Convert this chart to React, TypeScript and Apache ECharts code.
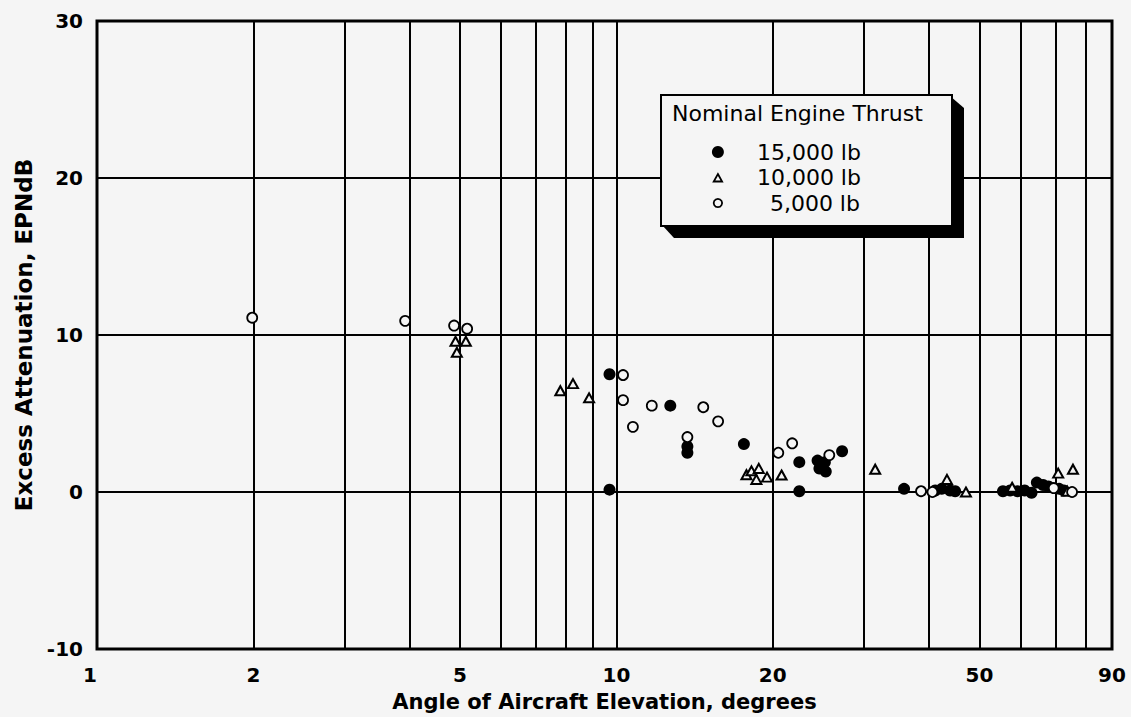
import React, { useEffect, useRef } from "react";
import * as echarts from "echarts";

// ---- data ----
const seriesNames = ["15,000 lb", "10,000 lb", "5,000 lb"];

// [angle of elevation (deg), excess attenuation (EPNdB)]
const thrust15: number[][] = [
  [9.7, 7.5], [9.7, 0.15], [12.7, 5.5], [13.7, 2.9], [13.7, 2.5], [17.6, 3.05],
  [22.5, 1.9], [22.5, 0.05], [24.4, 2.0], [24.6, 1.5], [25.3, 1.3], [25.2, 1.9],
  [27.2, 2.6], [35.8, 0.2], [41.1, 0.1], [42.3, 0.2], [43.9, 0.1], [44.9, 0.05],
  [55.5, 0.05], [57.3, 0.1], [59.2, 0.05], [61.1, 0.1], [63.0, -0.05], [64.5, 0.6],
  [66.3, 0.45], [67.9, 0.35], [71.2, 0.2], [72.7, 0.1],
];

const thrust10: number[][] = [
  [4.9, 9.6], [5.13, 9.6], [4.93, 8.9], [7.8, 6.45], [8.25, 6.9], [8.86, 6.0],
  [17.8, 1.1], [18.2, 1.35], [18.8, 1.5], [18.6, 0.8], [19.5, 0.95], [20.8, 1.08],
  [31.5, 1.45], [43.3, 0.8], [47.1, 0.0], [57.8, 0.3], [70.9, 1.2], [73.8, 0.05],
  [75.7, 1.45],
];

const thrust5: number[][] = [
  [1.99, 11.1], [3.92, 10.9], [4.87, 10.6], [5.16, 10.4], [10.3, 7.45], [10.3, 5.85],
  [10.76, 4.15], [11.7, 5.5], [13.7, 3.5], [14.7, 5.4], [15.7, 4.5], [20.5, 2.5],
  [21.8, 3.1], [25.7, 2.35], [38.6, 0.05], [40.6, 0.0], [69.5, 0.25], [75.4, 0.0],
];

// log-axis grid lines between decades, and the ones that carry a label
const xGridValues = [2, 3, 4, 5, 6, 7, 8, 9, 20, 30, 40, 50, 60, 70, 80];
const xExtraLabels = [2, 5, 20, 50];

const xMin = 1;
const xMax = 90;
const yMin = -10;
const yMax = 30;
const yInterval = 10;

const legendTitle = "Nominal Engine Thrust";
const xTitle = "Angle of Aircraft Elevation, degrees";
const yTitle = "Excess Attenuation, EPNdB";

const FONT = "DejaVu Sans";
const BG = "#f5f5f5";

export default function App() {
  const ref = useRef<HTMLDivElement>(null);

  useEffect(() => {
    if (!ref.current) return;
    const chart = echarts.init(ref.current, null, { renderer: "svg" });

    const tickFont = { fontFamily: FONT, fontSize: 20, fontWeight: "bold", color: "#000" };

    const option: any = {
      animation: false,
      backgroundColor: BG,
      grid: {
        left: 97,
        right: 19,
        top: 21,
        bottom: 68,
        show: true,
        borderColor: "#000",
        borderWidth: 3,
        backgroundColor: "transparent",
      },
      xAxis: {
        type: "log",
        logBase: 10,
        min: xMin,
        max: xMax,
        name: xTitle,
        nameLocation: "middle",
        nameGap: 42,
        nameTextStyle: { fontFamily: FONT, fontSize: 21, fontWeight: "bold", color: "#000" },
        axisLine: { show: false },
        axisTick: { show: false },
        axisLabel: {
          ...tickFont,
          margin: 16,
          alignMinLabel: "right",
          formatter: (v: number) => String(Math.round(v)),
        },
        splitLine: { show: true, lineStyle: { color: "#000", width: 2 } },
      },
      yAxis: {
        type: "value",
        min: yMin,
        max: yMax,
        interval: yInterval,
        name: yTitle,
        nameLocation: "middle",
        nameGap: 60,
        nameTextStyle: { fontFamily: FONT, fontSize: 23, fontWeight: "bold", color: "#000" },
        axisLine: { show: false },
        axisTick: { show: false },
        axisLabel: { ...tickFont, margin: 14 },
        splitLine: { show: true, lineStyle: { color: "#000", width: 2 } },
      },
      legend: {
        orient: "vertical",
        left: 711,
        top: 141,
        padding: 0,
        itemWidth: 14,
        itemHeight: 12,
        itemGap: 3.5,
        z: 20,
        selectedMode: false,
        data: [
          { name: seriesNames[0], icon: "circle", itemStyle: { color: "#000", borderWidth: 0, opacity: 1 } },
          {
            name: seriesNames[1],
            icon: "path://M0,0M12,12M6,2.5L10.2,10L1.8,10Z",
            itemStyle: { color: BG, borderColor: "#000", borderWidth: 1.8, opacity: 1 },
          },
          {
            name: seriesNames[2],
            icon: "path://M0,0M12,12M6,1.8A4.2,4.2 0 1 1 5.99,1.8Z",
            itemStyle: { color: BG, borderColor: "#000", borderWidth: 1.8, opacity: 1 },
          },
        ],
        formatter: (name: string) =>
          name === seriesNames[2] ? `{g2|}${name}` : `{g|}${name}`,
        textStyle: {
          fontFamily: FONT,
          fontSize: 22,
          color: "#000",
          rich: { g: { width: 27 }, g2: { width: 40 } },
        },
      },
      graphic: [
        {
          type: "polygon",
          z: 10,
          silent: true,
          shape: {
            points: [
              [950, 96], [964, 108], [964, 238], [674, 238], [662, 225],
            ],
          },
          style: { fill: "#000" },
        },
        {
          type: "rect",
          z: 11,
          silent: true,
          shape: { x: 661, y: 95, width: 291, height: 131 },
          style: { fill: BG, stroke: "#000", lineWidth: 2 },
        },
        {
          type: "text",
          z: 12,
          silent: true,
          x: 672,
          y: 113,
          style: {
            text: legendTitle,
            fontFamily: FONT,
            fontSize: 22,
            fill: "#000",
            align: "left",
            verticalAlign: "middle",
          },
        },
      ],
      series: [
        {
          name: seriesNames[0],
          type: "scatter",
          data: thrust15,
          symbol: "circle",
          symbolSize: 12,
          itemStyle: { color: "#000", opacity: 1 },
          z: 3,
          markLine: {
            silent: true,
            symbol: ["none", "none"],
            z: 1,
            animation: false,
            lineStyle: { color: "#000", width: 2, type: "solid", opacity: 1 },
            emphasis: { disabled: true },
            label: { show: false },
            data: xGridValues.map((v) => ({
              xAxis: v,
              label: xExtraLabels.includes(v)
                ? {
                    show: true,
                    position: "start",
                    formatter: String(v),
                    ...tickFont,
                    distance: 16,
                  }
                : { show: false },
            })),
          },
        },
        {
          name: seriesNames[1],
          type: "scatter",
          data: thrust10,
          symbol: "triangle",
          symbolSize: [10, 9],
          itemStyle: { color: BG, borderColor: "#000", borderWidth: 2, opacity: 1 },
          z: 4,
        },
        {
          name: seriesNames[2],
          type: "scatter",
          data: thrust5,
          symbol: "circle",
          symbolSize: 10,
          itemStyle: { color: BG, borderColor: "#000", borderWidth: 1.8, opacity: 1 },
          z: 5,
        },
      ],
    };

    chart.setOption(option);
    return () => chart.dispose();
  }, []);

  return (
    <div
      ref={ref}
      style={{ position: "fixed", left: 0, top: 0, width: "1131px", height: "717px" }}
    />
  );
}
